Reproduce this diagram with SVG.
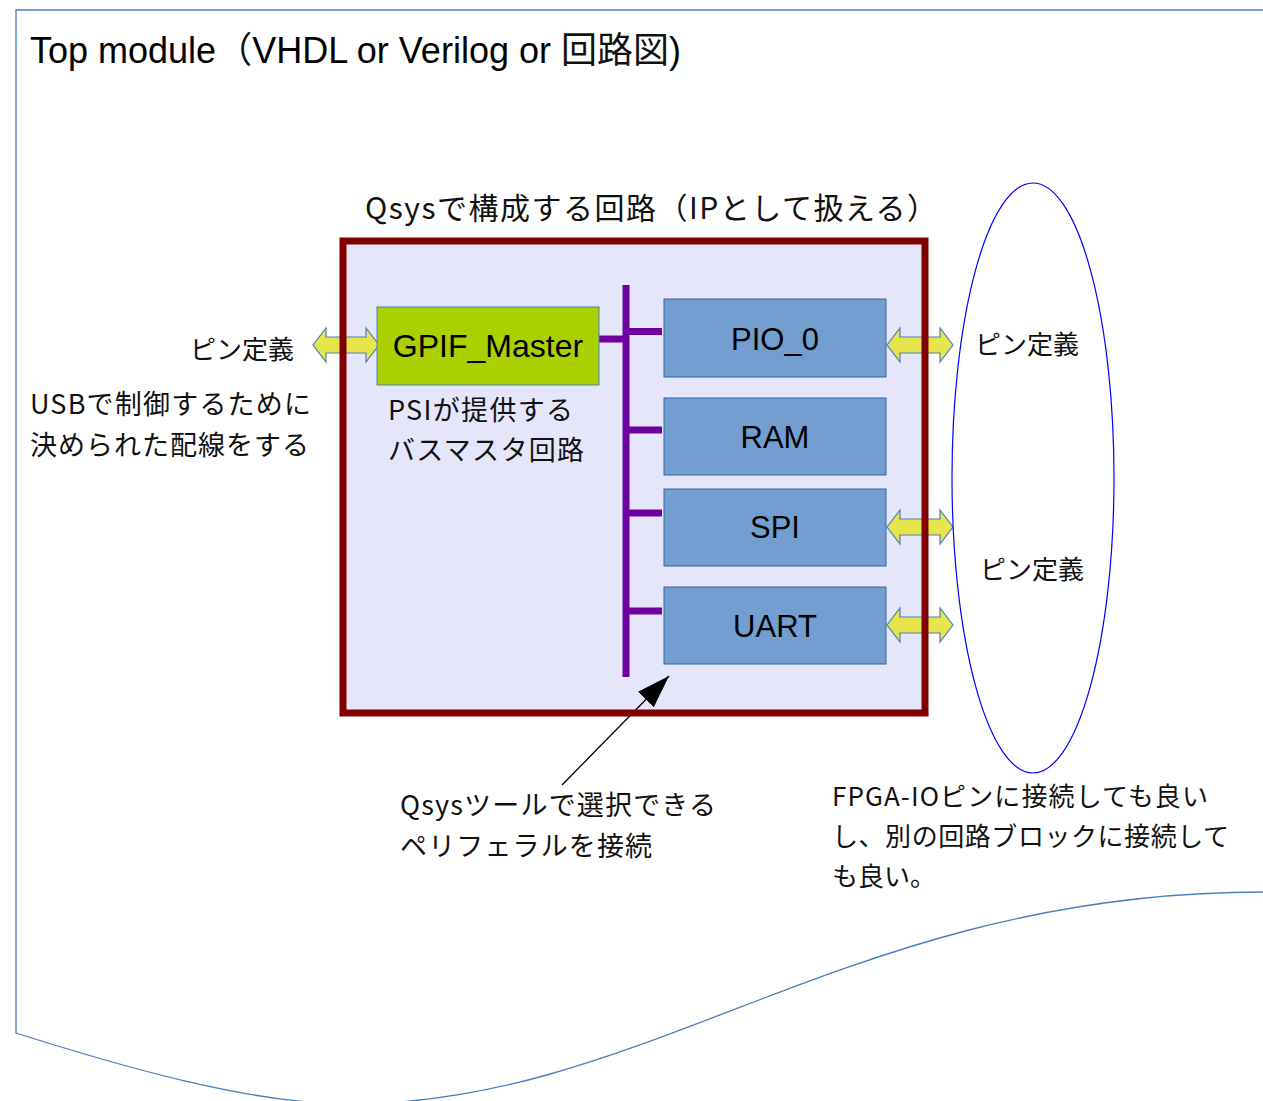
<svg xmlns="http://www.w3.org/2000/svg" width="1263" height="1101" viewBox="0 0 1263 1101">
<style>
.jp{font-family:"Noto Sans CJK JP","Noto Sans",sans-serif;fill:#111}
.lat{font-family:"Liberation Sans",Arial,sans-serif;fill:#000}
.blk{fill:#729fcf;stroke:#3465a4;stroke-width:1}
.dbl{fill:#e6e64c;stroke:#4a7ebb;stroke-width:1.2}
.bus{stroke:#6f00a0;stroke-width:7;fill:none}
</style>
<defs>
<path id="dbl" d="M0,0 L13,-17 L13,-8 L53,-8 L53,-17 L66,0 L53,17 L53,8 L13,8 L13,17 Z"/>
<marker id="ah" viewBox="0 0 33 22" markerWidth="33" markerHeight="22" refX="33" refY="11" markerUnits="userSpaceOnUse" orient="auto">
<path d="M0,0 L33,11 L0,22 Z" fill="#000"/>
</marker>
</defs>
<rect width="1263" height="1101" fill="#fff"/>
<g id="frame">
<path d="M1263,10 L16,10 L16,1033 C120,1066 250,1104 350,1104 C650,1104 850,892 1263,892" fill="none" stroke="#4a7ebb" stroke-width="1.3"/>
<text class="lat" x="30" y="63" font-size="36">Top module<tspan class="jp" font-size="36">（</tspan>VHDL or Verilog or <tspan class="jp">回路図</tspan>)</text>
</g>
<rect x="343" y="241" width="582" height="472" fill="#e6e6fa"/>
<g id="connectors">
<path class="bus" d="M626,285 V677"/>
<path class="bus" d="M599,339 H626"/>
<path class="bus" d="M626,331.5 H662"/>
<path class="bus" d="M626,430 H662"/>
<path class="bus" d="M626,513 H662"/>
<path class="bus" d="M626,611 H662"/>
<use href="#dbl" class="dbl" transform="translate(313,345)"/>
<use href="#dbl" class="dbl" transform="translate(887,345)"/>
<use href="#dbl" class="dbl" transform="translate(887,527)"/>
<use href="#dbl" class="dbl" transform="translate(887,625)"/>
<line x1="562" y1="785" x2="669" y2="676" stroke="#000" stroke-width="1.3" marker-end="url(#ah)"/>
</g>
<g id="qsys">
<rect x="343" y="241" width="582" height="472" fill="none" stroke="#800000" stroke-width="7"/>
<text class="jp" x="365" y="219" font-size="30" textLength="572" lengthAdjust="spacing">Qsysで構成する回路（IPとして扱える）</text>
</g>
<g id="gpif">
<rect x="377" y="307" width="222" height="78" fill="#aad000" stroke="#4a7ebb" stroke-width="1"/>
<text class="lat" x="488" y="357" font-size="32" text-anchor="middle">GPIF_Master</text>
</g>
<g id="pio0">
<rect class="blk" x="664" y="299" width="222" height="78"/>
<text class="lat" x="775" y="350" font-size="31" text-anchor="middle">PIO_0</text>
</g>
<g id="ram">
<rect class="blk" x="664" y="398" width="222" height="77"/>
<text class="lat" x="775" y="448" font-size="31" text-anchor="middle">RAM</text>
</g>
<g id="spi">
<rect class="blk" x="664" y="489" width="222" height="77"/>
<text class="lat" x="775" y="538" font-size="31" text-anchor="middle">SPI</text>
</g>
<g id="uart">
<rect class="blk" x="664" y="587" width="222" height="77"/>
<text class="lat" x="775" y="637" font-size="31" text-anchor="middle">UART</text>
</g>
<g id="pins">
<ellipse cx="1033" cy="478" rx="81" ry="295" fill="none" stroke="#0000ff" stroke-width="1.2"/>
</g>
<g id="labels">
<text class="jp" x="190" y="359" font-size="26" textLength="104" lengthAdjust="spacing">ピン定義</text>
<text class="jp" x="30" y="414" font-size="27" textLength="281" lengthAdjust="spacing">USBで制御するために</text>
<text class="jp" x="30" y="455" font-size="27" textLength="279" lengthAdjust="spacing">決められた配線をする</text>
<text class="jp" x="388" y="420" font-size="27" textLength="185" lengthAdjust="spacing">PSIが提供する</text>
<text class="jp" x="388" y="460" font-size="27" textLength="196" lengthAdjust="spacing">バスマスタ回路</text>
<text class="jp" x="975" y="354" font-size="26" textLength="104" lengthAdjust="spacing">ピン定義</text>
<text class="jp" x="980" y="579" font-size="26" textLength="104" lengthAdjust="spacing">ピン定義</text>
<text class="jp" x="400" y="815" font-size="27" textLength="316" lengthAdjust="spacing">Qsysツールで選択できる</text>
<text class="jp" x="400" y="856" font-size="27" textLength="252" lengthAdjust="spacing">ペリフェラルを接続</text>
<text class="jp" x="832" y="806" font-size="26" textLength="376" lengthAdjust="spacing">FPGA-IOピンに接続しても良い</text>
<text class="jp" x="832" y="846" font-size="26" textLength="397" lengthAdjust="spacing">し、別の回路ブロックに接続して</text>
<text class="jp" x="832" y="886" font-size="26">も良い。</text>
</g>
</svg>
